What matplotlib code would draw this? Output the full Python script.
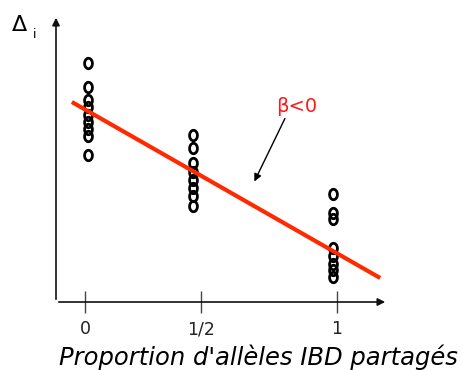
import matplotlib
matplotlib.use("Agg")
import matplotlib.pyplot as plt
import numpy as np
from matplotlib.path import Path

# ---- data ----
tick_pos = [0, 0.46, 1]
tick_labels = ["0", "1/2", "1"]
col_x = [0.01, 0.43, 0.985]
col0_y = [239, 215, 202, 195, 187, 180, 173, 166, 147]
col1_y = [167, 154, 139, 130, 122, 114, 106, 96]
col2_y = [108, 89, 83, 54, 46, 38, 32, 25]
line_x = [-0.052, 1.171]
line_y = [200, 24]

fig = plt.figure(figsize=(4.62, 3.70), dpi=100)
W, H = 462, 370
left, right, bottom_px, top_px = 56, 388, 302, 15
ax = fig.add_axes([left / W, (H - bottom_px) / H, (right - left) / W, (bottom_px - top_px) / H])
ax.set_xlim(-0.115, 1.202)
ax.set_ylim(0, 287)
for s in ax.spines.values():
    s.set_visible(False)
ax.set_yticks([])

# axes arrows
ax.annotate("", xy=(1, 0), xytext=(0, 0), xycoords="axes fraction",
            arrowprops=dict(arrowstyle="-|>", color="#111111", lw=1.2, mutation_scale=11))
ax.annotate("", xy=(0, 1), xytext=(0, 0), xycoords="axes fraction",
            arrowprops=dict(arrowstyle="-|>", color="#111111", lw=1.2, mutation_scale=11))

ax.set_xticks(tick_pos)
ax.set_xticklabels(tick_labels, fontsize=12.5, family="DejaVu Sans", color="#222222")
ax.tick_params(axis="x", direction="inout", length=16, width=1, color="#444444", pad=5)

# ellipse marker (like a bold letter o)
t = np.linspace(0, 2 * np.pi, 40)
verts = np.column_stack([0.75 * np.cos(t), np.sin(t)])
ell = Path(verts, closed=True)

for x, ys in zip(col_x, [col0_y, col1_y, col2_y]):
    ax.plot([x] * len(ys), ys, linestyle="none", marker=ell, markersize=7.5,
            mfc="none", mec="black", mew=2, zorder=3)

ax.plot(line_x, line_y, color="#ff2a00", lw=3, solid_capstyle="butt", zorder=4)

ax.annotate("", xy=(0.667, 118), xytext=(0.798, 186),
            arrowprops=dict(arrowstyle="-|>", color="black", lw=1, mutation_scale=11))
ax.text(0.841, 196, "β<0", color="#ff1a1a", fontsize=14, ha="center", va="center",
        family="DejaVu Sans")

fig.text(12 / W, 1 - 25 / H, "Δ", fontsize=16, ha="left", va="center", color="black")
fig.text(33 / W, 1 - 34 / H, "i", fontsize=9, ha="left", va="center", color="black")

fig.text(258 / W, 1 - 357 / H, "Proportion d'allèles IBD partagés", fontsize=17.5,
         style="italic", ha="center", va="center", family="DejaVu Sans", color="black")

fig.savefig("out.png", dpi=100)
